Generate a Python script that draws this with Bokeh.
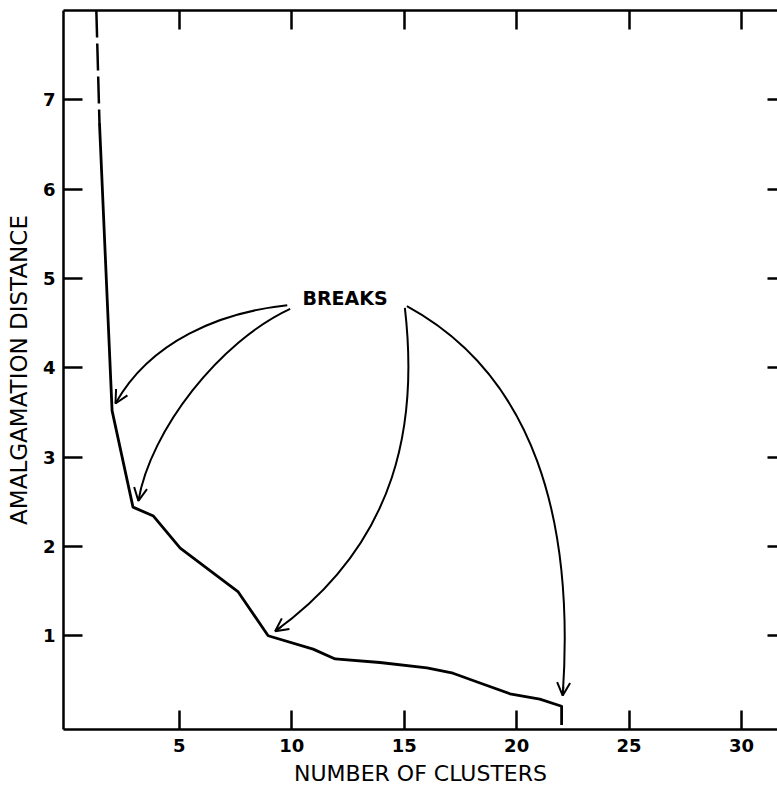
from bokeh.plotting import figure
from bokeh.models import Range1d, LinearAxis, FixedTicker, Arrow, OpenHead, Label, CustomJSTickFormatter
from bokeh.embed import file_html
from bokeh.resources import INLINE

# dashed (extrapolated) top part of the curve
dash_clusters = [1.31, 1.45]
dash_distance = [8.0, 6.74]

# solid curve: amalgamation distance vs number of clusters
clusters = [1.45, 2.01, 2.94, 3.85, 5.04, 7.62, 8.95, 10.95, 11.93, 13.92, 16.01,
            17.17, 18.37, 19.70, 21.03, 22.0, 22.0]
distance = [6.74, 3.52, 2.44, 2.34, 1.98, 1.49, 1.0, 0.85, 0.74, 0.70, 0.64,
            0.58, 0.47, 0.35, 0.29, 0.21, 0.0]

# curved "BREAKS" arrows (cubic bezier: start, control 0, control 1, end)
arrow_x0 = [9.80, 9.93, 15.03, 15.12]
arrow_y0 = [4.70, 4.66, 4.67, 4.69]
arrow_cx0 = [6.82, 6.82, 15.61, 20.81]
arrow_cy0 = [4.62, 4.30, 3.41, 3.91]
arrow_cx1 = [3.71, 3.71, 14.81, 22.58]
arrow_cy1 = [4.30, 3.30, 2.06, 2.29]
arrow_x1 = [2.16, 3.18, 9.26, 22.05]
arrow_y1 = [3.60, 2.51, 1.05, 0.33]

label_x, label_y, label_text = 12.37, 4.78, "BREAKS"

x_ticks = [5, 10, 15, 20, 25, 30]
y_ticks = [1, 2, 3, 4, 5, 6, 7]

FONT = "DejaVu Sans"

p = figure(width=777, height=788, output_backend="svg", toolbar_location=None,
           x_range=Range1d(-0.15, 31.6), y_range=Range1d(-0.05, 8.0),
           min_border_left=63, min_border_top=10, min_border_right=0, min_border_bottom=0,
           x_axis_location=None, y_axis_location=None)
p.outline_line_color = None
p.xgrid.visible = False
p.ygrid.visible = False
p.background_fill_color = "white"
p.border_fill_color = "white"

blank = CustomJSTickFormatter(code="return '';")

def style_axis(ax, labels=True):
    ax.axis_line_color = "black"
    ax.axis_line_width = 2.5
    ax.major_tick_line_color = "black"
    ax.major_tick_line_width = 2.5
    ax.major_tick_in = 19
    ax.major_tick_out = 0
    ax.minor_tick_line_color = None
    if labels:
        ax.major_label_text_font = FONT
        ax.major_label_text_font_size = "18px"
        ax.major_label_text_font_style = "bold"
        ax.major_label_text_color = "black"
    else:
        ax.formatter = blank
        ax.major_label_standoff = 0

xb = LinearAxis(ticker=FixedTicker(ticks=x_ticks), axis_label="NUMBER OF CLUSTERS")
style_axis(xb)
xb.major_label_standoff = 9
xb.axis_label_standoff = 6
xb.axis_label_text_font = FONT
xb.axis_label_text_font_size = "22px"
xb.axis_label_text_font_style = "normal"
xb.axis_label_text_color = "black"
p.add_layout(xb, "below")

yl = LinearAxis(ticker=FixedTicker(ticks=y_ticks), axis_label="AMALGAMATION DISTANCE")
style_axis(yl)
yl.major_label_standoff = 8
yl.axis_label_standoff = 8
yl.axis_label_text_font = FONT
yl.axis_label_text_font_size = "23px"
yl.axis_label_text_font_style = "normal"
yl.axis_label_text_color = "black"
p.add_layout(yl, "left")

xt = LinearAxis(ticker=FixedTicker(ticks=x_ticks))
style_axis(xt, labels=False)
p.add_layout(xt, "above")

yr = LinearAxis(ticker=FixedTicker(ticks=y_ticks))
style_axis(yr, labels=False)
yr.axis_line_color = None
yr.major_tick_in = 10
p.add_layout(yr, "right")

p.line(dash_clusters, dash_distance, line_color="black", line_width=2.5, line_dash="27 6")
p.line(clusters, distance, line_color="black", line_width=2.8, line_join="round")

p.bezier(x0=arrow_x0, y0=arrow_y0, x1=arrow_x1, y1=arrow_y1,
         cx0=arrow_cx0, cy0=arrow_cy0, cx1=arrow_cx1, cy1=arrow_cy1,
         line_color="black", line_width=2)

for i in range(len(arrow_x1)):
    dx = arrow_x1[i] - arrow_cx1[i]
    dy = arrow_y1[i] - arrow_cy1[i]
    p.add_layout(Arrow(end=OpenHead(size=13, line_width=2, line_color="black"),
                       x_start=arrow_x1[i] - 0.05 * dx, y_start=arrow_y1[i] - 0.05 * dy,
                       x_end=arrow_x1[i], y_end=arrow_y1[i],
                       line_color="black", line_width=2))

p.add_layout(Label(x=label_x, y=label_y, text=label_text, text_align="center",
                   text_baseline="middle", text_font=FONT, text_font_size="19px",
                   text_font_style="bold", text_color="black"))

open("out.html", "w").write(file_html(p, INLINE))
